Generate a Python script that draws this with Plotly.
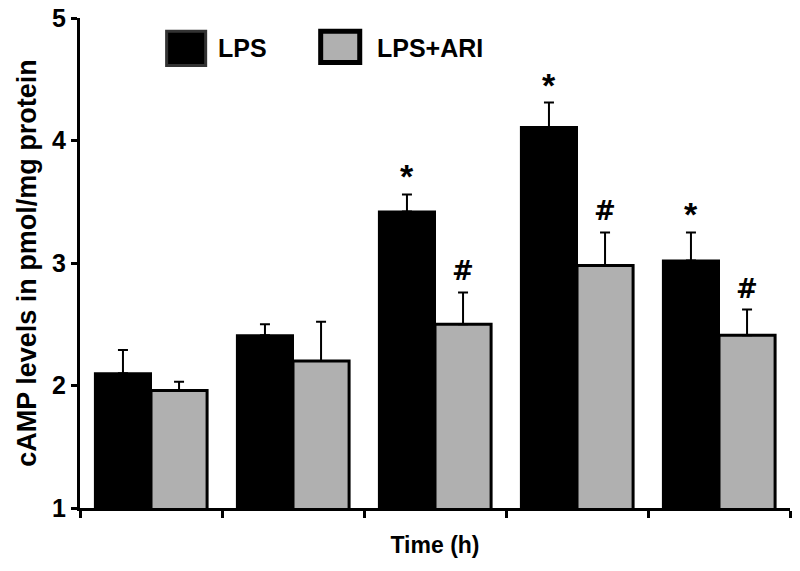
import plotly.graph_objects as go

groups = [0, 1, 2, 3, 4]
lps = [2.10, 2.41, 3.42, 4.11, 3.02]
lps_err = [0.19, 0.09, 0.14, 0.20, 0.23]
ari = [1.96, 2.20, 2.50, 2.98, 2.41]
ari_err = [0.07, 0.32, 0.26, 0.27, 0.21]
lps_sig = ["", "", "*", "*", "*"]
ari_sig = ["", "", "#", "#", "#"]
y_ticks = [1, 2, 3, 4, 5]

BOLD = "Liberation Sans"
NARROW = "Liberation Sans Narrow, Liberation Sans"

fig = go.Figure()
fig.add_trace(go.Bar(
    x=groups, y=lps, name="LPS",
    marker=dict(color="#000000", line=dict(color="#000000", width=2)),
    error_y=dict(type="data", symmetric=False, array=lps_err, arrayminus=[0]*5,
                 color="#000000", thickness=2, width=5),
))
fig.add_trace(go.Bar(
    x=groups, y=ari, name="LPS+ARI",
    marker=dict(color="#b0b0b0", line=dict(color="#000000", width=3)),
    error_y=dict(type="data", symmetric=False, array=ari_err, arrayminus=[0]*5,
                 color="#000000", thickness=2, width=5),
))

annotations = []
for i, g in enumerate(groups):
    if lps_sig[i]:
        annotations.append(dict(x=g - 0.2, y=lps[i] + lps_err[i], xref="x", yref="y",
                                text=lps_sig[i], showarrow=False, yanchor="bottom",
                                yshift=-3, font=dict(family=BOLD, size=34, color="black", weight="bold")))
    if ari_sig[i]:
        annotations.append(dict(x=g + 0.2, y=ari[i] + ari_err[i], xref="x", yref="y",
                                text=ari_sig[i], showarrow=False, yanchor="bottom",
                                yshift=4, font=dict(family="DejaVu Sans", size=26, color="black", weight="bold")))

# legend (decorative)
shapes = [
    dict(type="rect", xref="paper", yref="paper", x0=0.122, x1=0.177, y0=0.903, y1=0.973,
         fillcolor="#000000", line=dict(color="#333333", width=3)),
    dict(type="rect", xref="paper", yref="paper", x0=0.339, x1=0.394, y0=0.909, y1=0.973,
         fillcolor="#b0b0b0", line=dict(color="#000000", width=5)),
]
annotations += [
    dict(x=0.192, y=0.938, xref="paper", yref="paper", text="LPS", showarrow=False,
         xanchor="left", yanchor="middle",
         font=dict(family=NARROW, size=25, color="black", weight="bold")),
    dict(x=0.416, y=0.938, xref="paper", yref="paper", text="LPS+ARI", showarrow=False,
         xanchor="left", yanchor="middle",
         font=dict(family=NARROW, size=25, color="black", weight="bold")),
]

fig.update_layout(
    width=800, height=571,
    margin=dict(l=80, r=10, t=18, b=63),
    paper_bgcolor="white", plot_bgcolor="white",
    barmode="group", bargap=0.21, bargroupgap=0,
    showlegend=False,
    shapes=shapes, annotations=annotations,
    xaxis=dict(
        range=[-0.5, 4.5], tickvals=[-0.5, 0.5, 1.5, 2.5, 3.5, 4.5],
        ticktext=[""] * 6, ticks="outside", ticklen=7, tickwidth=3, tickcolor="black",
        showline=True, linewidth=3, linecolor="black", showgrid=False, zeroline=False,
        automargin=False,
        title=dict(text="Time (h)", standoff=18,
                   font=dict(family=NARROW, size=23, color="black", weight="bold")),
    ),
    yaxis=dict(
        range=[1, 5], tickvals=y_ticks, ticks="outside", ticklen=6, tickwidth=3,
        tickcolor="black", showline=True, linewidth=3, linecolor="black",
        showgrid=False, zeroline=False, automargin=False, ticklabeloverflow="allow",
        tickfont=dict(family=BOLD, size=25, color="black", weight="bold"),
        title=dict(text="cAMP levels in pmol/mg protein", standoff=8,
                   font=dict(family=BOLD, size=27, color="black", weight="bold")),
    ),
)

fig.write_html("out.html", config={"displayModeBar": False},
               post_script="document.body.style.margin='0';document.body.style.overflow='hidden';")
